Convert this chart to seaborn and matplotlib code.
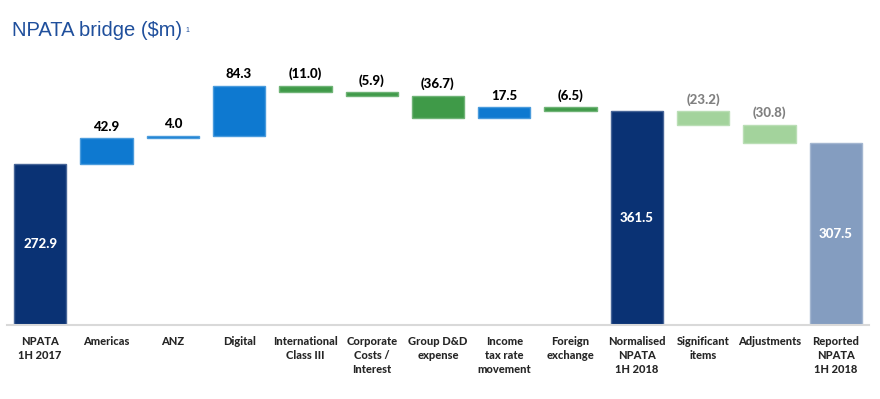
import matplotlib
matplotlib.use("Agg")
import matplotlib.pyplot as plt
import matplotlib.colors as mcolors
import seaborn as sns

# data
categories = ["NPATA\n1H 2017", "Americas", "ANZ", "Digital", "International\nClass III",
              "Corporate\nCosts /\nInterest", "Group D&D\nexpense", "Income\ntax rate\nmovement",
              "Foreign\nexchange", "Normalised\nNPATA\n1H 2018", "Significant\nitems",
              "Adjustments", "Reported\nNPATA\n1H 2018"]
values = [272.9, 42.9, 4.0, 84.3, -11.0, -5.9, -36.7, 17.5, -6.5, 361.5, -23.2, -30.8, 307.5]
kinds = ["total", "step", "step", "step", "step", "step", "step", "step", "step",
         "total", "adj", "adj", "reported"]

colors = {"total": "#0A3274", "up": "#0E79D0", "down": "#3F9A48",
          "adj": "#A3D39C", "reported": "#849DC0"}

# waterfall geometry
bottoms, heights, bar_colors = [], [], []
running = 0
for v, k in zip(values, kinds):
    if k in ("total", "reported"):
        bottoms.append(0)
        heights.append(v)
        running = v
        bar_colors.append(colors[k])
    else:
        bottoms.append(running if v > 0 else running + v)
        heights.append(abs(v))
        running += v
        if k == "adj":
            bar_colors.append(colors["adj"])
        else:
            bar_colors.append(colors["up"] if v > 0 else colors["down"])

sns.set_style("white")
plt.rcParams["font.family"] = ["Lato", "DejaVu Sans"]

fig = plt.figure(figsize=(8.8, 3.99), dpi=100)
ax = fig.add_axes([7 / 880, 1 - 325 / 399, 862 / 880, (325 - 70) / 399])

sns.barplot(x=categories, y=heights, bottom=bottoms, color="#888888",
            width=0.79, ax=ax, linewidth=1)

for p, c in zip(ax.patches, bar_colors):
    rgb = mcolors.to_rgb(c)
    light = tuple(0.75 * x + 0.25 for x in rgb)
    p.set_facecolor(c)
    p.set_edgecolor(light)

ax.set_xlim(-0.5, len(categories) - 0.5)
ax.set_ylim(0, 431)

# value labels
for i, (v, k) in enumerate(zip(values, kinds)):
    txt = f"({abs(v):.1f})" if v < 0 else f"{v:.1f}"
    if k in ("total", "reported"):
        ax.text(i, v / 2, txt, ha="center", va="center", color="white",
                fontsize=9.5, fontweight="black")
    else:
        top = bottoms[i] + heights[i]
        col = "#808080" if k == "adj" else "black"
        ax.annotate(txt, (i, top), xytext=(0, 4), textcoords="offset points",
                    ha="center", va="bottom", color=col, fontsize=9.5, fontweight="black")

for s in ["top", "right", "left"]:
    ax.spines[s].set_visible(False)
ax.spines["bottom"].set_color("#D9D9D9")
ax.spines["bottom"].set_linewidth(1.5)
ax.set_yticks([])
ax.set_ylabel("")
ax.tick_params(axis="x", length=0, pad=8)
for lbl in ax.get_xticklabels():
    lbl.set_fontsize(8)
    lbl.set_fontweight("black")
    lbl.set_linespacing(1.3)
    lbl.set_verticalalignment("top")

fig.text(12 / 880, 1 - 31 / 399, "NPATA bridge ($m)", fontsize=14.5, color="#1F4F9C",
         va="center", ha="left", family=["Liberation Sans", "DejaVu Sans"])
fig.text(185 / 880, 1 - 31 / 399, "1", fontsize=5, color="#1F4F9C", va="center", ha="left",
         family=["Liberation Sans", "DejaVu Sans"])

fig.savefig("out.png", dpi=100)
